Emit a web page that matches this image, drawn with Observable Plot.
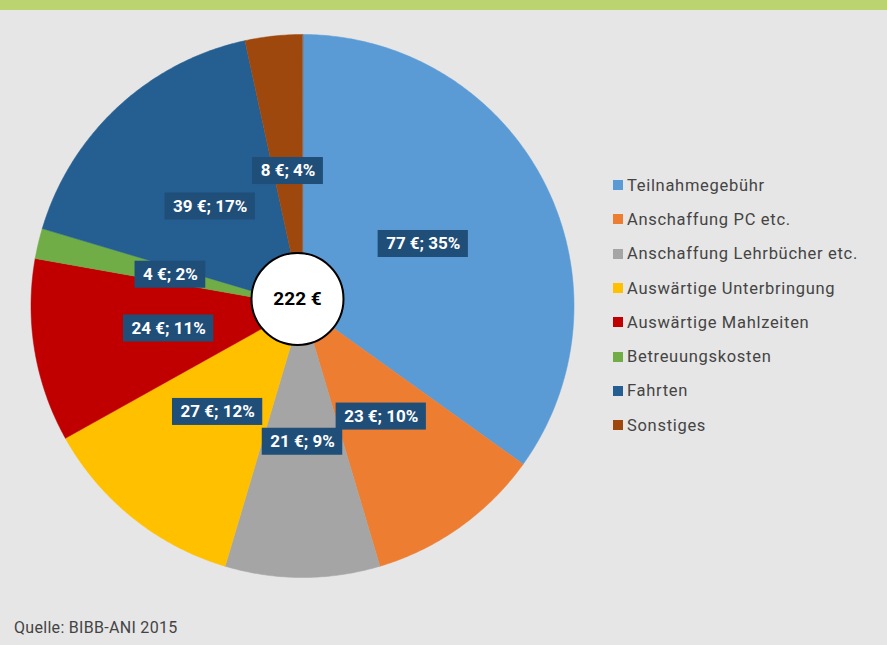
<!DOCTYPE html>
<html><head><meta charset="utf-8">
<script src="https://cdn.jsdelivr.net/npm/d3@7"></script>
<script src="https://cdn.jsdelivr.net/npm/@observablehq/plot@0.6"></script>
<style>
html,body{margin:0;padding:0;background:#e6e6e6;}
#wrap{position:relative;width:887px;height:645px;background:#e6e6e6;overflow:hidden;font-family:Roboto,"Open Sans",sans-serif;}
#bar{position:absolute;left:0;top:0;width:887px;height:10px;background:#bcd470;}
#chart{position:absolute;left:0;top:0;}
#legend{position:absolute;left:613px;top:168px;}
#caption{position:absolute;left:14px;top:618px;font-size:16px;color:#444;letter-spacing:0.3px;}
.lg-swatches{font-family:Roboto,"Open Sans",sans-serif !important;font-size:16.5px !important;color:#444 !important;letter-spacing:0.7px;}
.lg-swatches .lg-swatch{height:34.3px;margin:0 !important;padding:0 !important;display:flex;align-items:center;box-sizing:border-box;}
.lg-swatches .lg-swatch svg{margin-right:4px !important;}
</style></head>
<body><div id="wrap"><div id="bar"></div><div id="chart"></div><div id="legend"></div><div id="caption">Quelle: BIBB-ANI 2015</div></div>
<script>
const categories = ["Teilnahmegebühr","Anschaffung PC etc.","Anschaffung Lehrbücher etc.","Auswärtige Unterbringung","Auswärtige Mahlzeiten","Betreuungskosten","Fahrten","Sonstiges"];
const euros = [77, 23, 21, 27, 24, 4, 39, 8];
const percents = [35, 10, 9, 12, 11, 2, 17, 4];
// slice shares (%) as measured from the slice angles in the picture
const shares = [34.9, 10.5, 9.2, 12.3, 10.9, 1.8, 17.0, 3.4];
const colors = ["#5b9bd5","#ed7d31","#a5a5a5","#ffc000","#c00000","#70ad47","#255e91","#9e480e"];
const total = 222;

const sum = d3.sum(shares);
let acc = 0;
const slices = categories.map((c, i) => {
  const a0 = acc / sum * 2 * Math.PI;
  acc += shares[i];
  const a1 = acc / sum * 2 * Math.PI;
  return {cat: c, a0, a1, mid: (a0 + a1) / 2, label: `${euros[i]} €; ${percents[i]}%`};
});
const poly = [];
for (const s of slices) {
  poly.push({cat: s.cat, x: 0, y: 0});
  const n = Math.max(2, Math.ceil((s.a1 - s.a0) / 0.01));
  for (let k = 0; k <= n; k++) {
    const a = s.a0 + (s.a1 - s.a0) * k / n;
    poly.push({cat: s.cat, x: Math.sin(a), y: Math.cos(a)});
  }
}
const R = 271.5;
const CX = 302, CY = 305.5;
const labelSize = 17;
const ctx = document.createElement("canvas").getContext("2d");
ctx.font = `bold ${labelSize}px Roboto`;
const labels = slices.map(s => {
  const w = ctx.measureText(s.label).width;
  const cx = 0.5 * Math.sin(s.mid), cy = 0.5 * Math.cos(s.mid);
  const hw = (w / 2 + 8) / R, hh = 13.5 / R;
  return {...s, cx, cy, x1: cx - hw, x2: cx + hw, y1: cy - hh, y2: cy + hh};
});

const color = {domain: categories, range: colors};
const plot = Plot.plot({
  width: 887, height: 645,
  margin: 0,
  style: {background: "transparent", fontFamily: "Roboto"},
  x: {domain: [-1, 1], range: [CX - R, CX + R], axis: null},
  y: {domain: [-1, 1], range: [CY + R, CY - R], axis: null},
  color,
  marks: [
    Plot.line(poly, {x: "x", y: "y", z: "cat", fill: "cat", stroke: "cat", strokeWidth: 0.5, curve: "linear-closed"}),
    Plot.rect(labels, {x1: "x1", x2: "x2", y1: "y1", y2: "y2", fill: "#1f4e79"}),
    Plot.text(labels, {x: "cx", y: "cy", text: "label", fill: "white", fontWeight: "bold", fontSize: labelSize}),
    Plot.dot([{x: 0, y: 0}], {x: "x", y: "y", r: 46, fill: "white", stroke: "black", strokeWidth: 2, dx: -5, dy: -7}),
    Plot.text([{x: 0, y: 0}], {x: "x", y: "y", text: () => `${total} €`, fill: "black", fontWeight: "bold", fontSize: 19, dx: -5, dy: -7})
  ]
});
document.getElementById("chart").appendChild(plot);
const leg = Plot.legend({color, legend: "swatches", columns: 1, swatchSize: 10, className: "lg"});
document.getElementById("legend").appendChild(leg);
</script></body></html>
